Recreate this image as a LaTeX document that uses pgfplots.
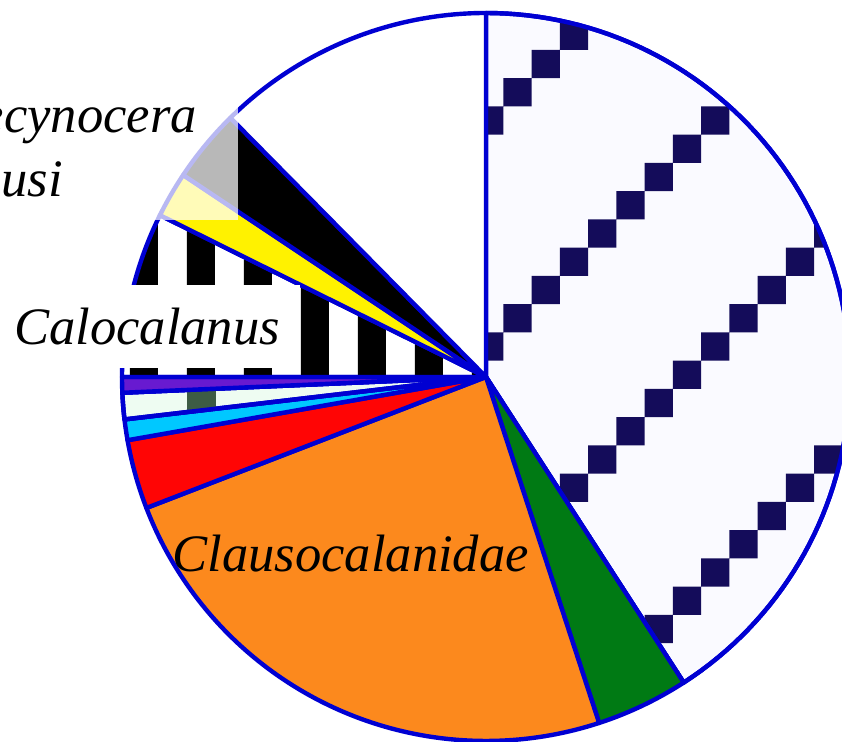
\documentclass[border=0pt]{standalone}
\usepackage{pgfplots}
\pgfplotsset{compat=1.18}
\usetikzlibrary{patterns}
\usepackage{fontspec}
\setmainfont{Liberation Serif}

\definecolor{edgeblue}{RGB}{0,0,210}
\definecolor{checknavy}{RGB}{20,12,90}
\definecolor{checkbg}{RGB}{250,250,255}
\definecolor{sgreen}{RGB}{0,122,20}
\definecolor{sorange}{RGB}{252,137,29}
\definecolor{sred}{RGB}{255,5,5}
\definecolor{scyan}{RGB}{0,200,255}
\definecolor{smint}{RGB}{238,252,242}
\definecolor{mintdark}{RGB}{61,92,69}
\definecolor{spurple}{RGB}{104,26,208}
\definecolor{syellow}{RGB}{255,242,0}

% diagonal run of dark squares, 8 cells per tile
\pgfdeclarepatternformonly{diagsq}{\pgfpointorigin}{\pgfpoint{113.2pt}{113.2pt}}{\pgfpoint{113.2pt}{113.2pt}}{%
  \foreach \px/\py in {54.1/7.1, 68.25/21.25, 82.4/35.4, 96.55/49.55, 110.7/63.7, -2.5/63.7,
                       11.65/77.85, 25.8/92.0, 39.95/106.15, 39.95/-7.05}{%
    \pgfpathrectangle{\pgfpoint{\px pt}{\py pt}}{\pgfpoint{14.15pt}{14.15pt}}}%
  \pgfusepath{fill}}
% vertical bars
\pgfdeclarepatternformonly{vbars}{\pgfpointorigin}{\pgfpoint{28.5pt}{400pt}}{\pgfpoint{28.5pt}{400pt}}{%
  \pgfpathrectangle{\pgfpoint{8pt}{0pt}}{\pgfpoint{14.25pt}{400pt}}\pgfusepath{fill}}
% single darker cell in the thin mint wedge
\pgfdeclarepatternformonly{mintcell}{\pgfpointorigin}{\pgfpoint{421pt}{371pt}}{\pgfpoint{421pt}{371pt}}{%
  \pgfpathrectangle{\pgfpoint{93.5pt}{160pt}}{\pgfpoint{14.5pt}{22pt}}\pgfusepath{fill}}

\def\cx{486}
\def\cy{365}
\def\R{364}
\def\astart{90}
% one wedge, clockwise from the current angle; #1 = share in percent
\newcommand\slice[2]{%
  \pgfmathsetmacro\aend{\astart-3.6*#1}%
  \addplot[edgeblue, line width=2.2pt, line join=round, #2, domain=\aend:\astart, samples=90, variable=\t]
    ({\cx+\R*cos(\t)},{\cy+\R*sin(\t)}) -- (axis cs:\cx,\cy) -- cycle;
  \xdef\astart{\aend}}

\begin{document}
\begin{tikzpicture}
\begin{axis}[
    hide axis,
    scale only axis,
    width=421pt, height=371pt,
    xmin=0, xmax=842, ymin=0, ymax=742,
    clip=true
]
\slice{40.86}{pattern=diagsq, pattern color=checknavy, preaction={fill=checkbg}}
\slice{4.11}{fill=sgreen}
\slice{24.17}{fill=sorange}
\slice{3.08}{fill=sred}
\slice{0.92}{fill=scyan}
\slice{1.17}{pattern=mintcell, pattern color=mintdark, preaction={fill=smint}}
\slice{0.69}{fill=spurple}
\slice{7.33}{pattern=vbars, pattern color=black}
\slice{2.03}{fill=syellow}
\slice{3.25}{fill=black}
\slice{12.39}{fill=white}

\node[anchor=south east, align=left, fill=white, fill opacity=0.72, text opacity=1,
      inner xsep=20.5pt, inner ysep=11.5pt, outer sep=0pt,
      font=\fontsize{26.3}{32}\selectfont\itshape]
  at (axis cs:238,522) {Mecynocera\\clausi};
\node[anchor=south east, fill=white, inner xsep=10pt, inner ysep=11.5pt, outer sep=0pt,
      font=\fontsize{26.3}{32}\selectfont\itshape]
  at (axis cs:300,374) {Calocalanus};
\node[anchor=base west, inner sep=0pt, font=\fontsize{26.3}{32}\selectfont\itshape]
  at (axis cs:172,170) {Clausocalanidae};

\coordinate (bl) at (axis cs:0,0);
\coordinate (tr) at (axis cs:842,742);
\end{axis}
\pgfresetboundingbox
\path (bl) rectangle (tr);
\end{tikzpicture}
\end{document}
